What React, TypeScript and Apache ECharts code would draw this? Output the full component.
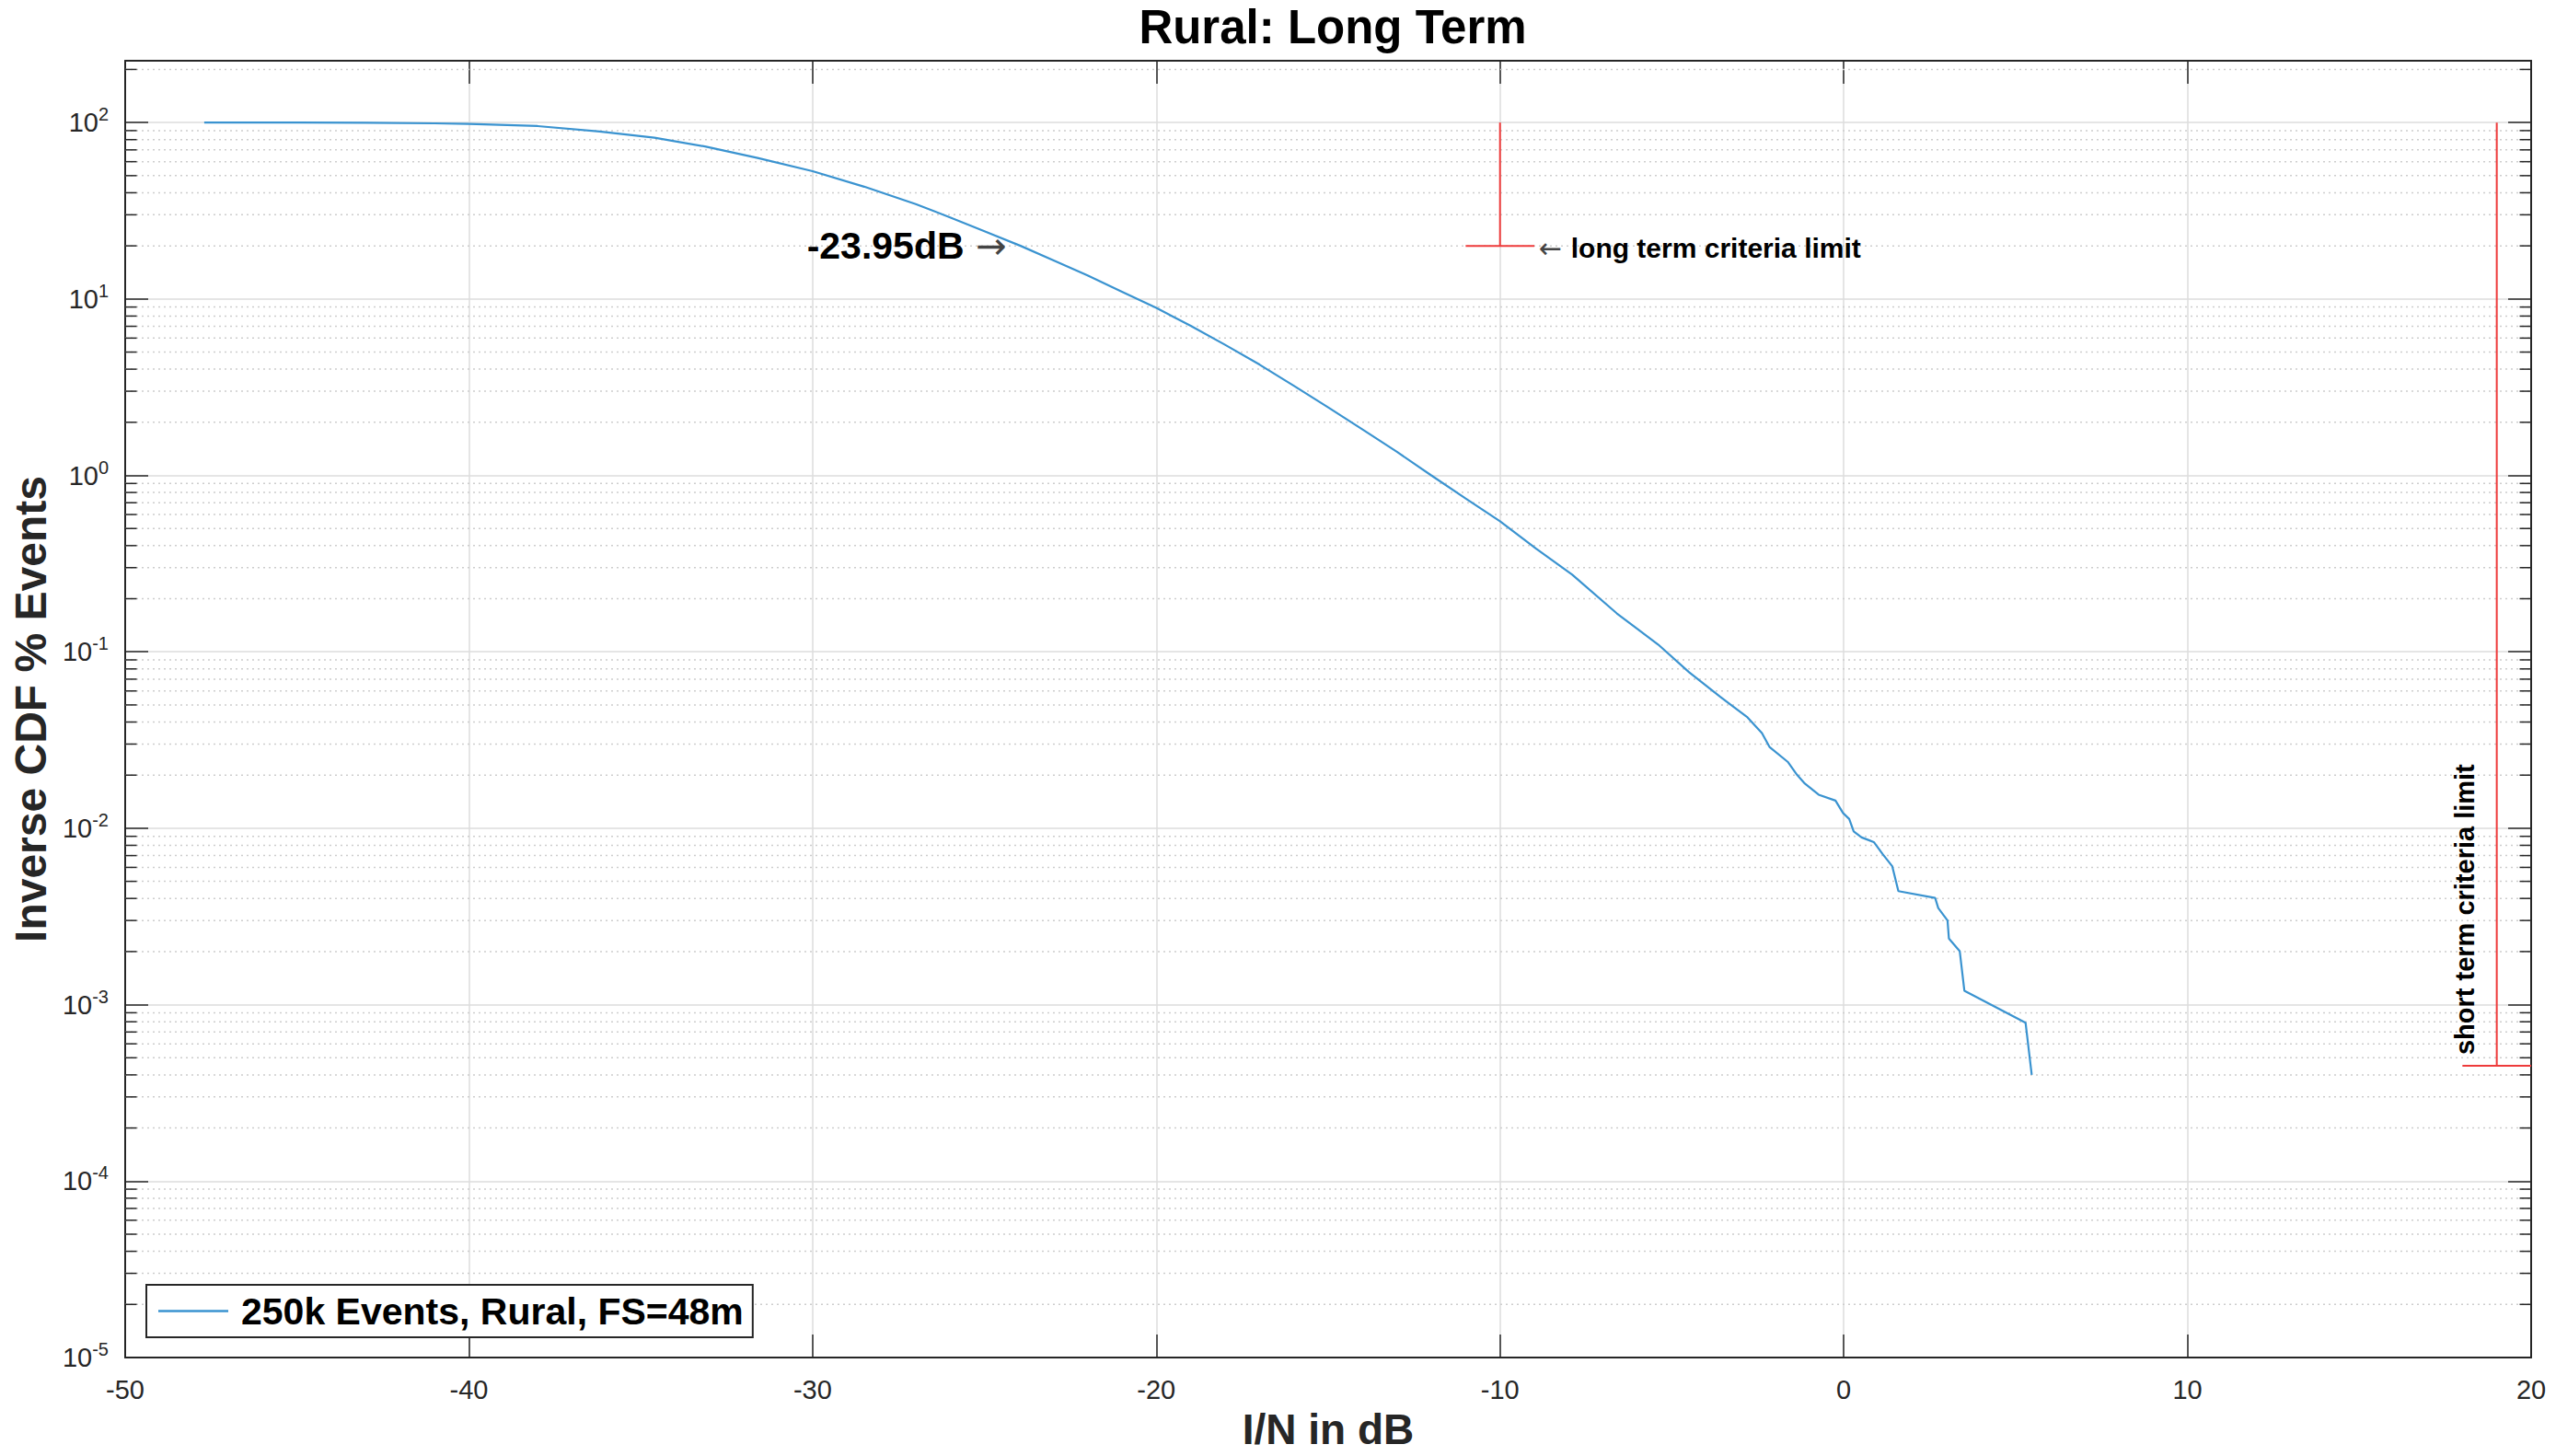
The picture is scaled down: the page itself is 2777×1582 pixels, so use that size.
import React, { useEffect, useRef } from "react";
import * as echarts from "echarts";

const W = 2777;
const H = 1582;

const titleText = "Rural: Long Term";
const xAxisName = "I/N in dB";
const yAxisName = "Inverse CDF % Events";
const seriesName = "250k Events, Rural, FS=48m";

// axis ranges
const xMin = -50;
const xMax = 20;
const xStep = 10;
const yMin = 1e-5;
const yMax = 224;

// I/N (dB) against the percentage of events exceeding it
const inDb = [
  -47.7, -45, -43, -41, -40, -38, -36.2, -34.6, -33.1, -31.6, -30, -28.5, -27, -26,
  -25, -23.95, -23, -22, -21, -20, -19, -18, -17, -16, -15, -14, -13, -12,
  -11, -10, -8.95, -7.9, -6.6, -5.4, -4.5, -3.6, -2.8, -2.38, -2.16, -1.63, -1.36, -1.13,
  -0.73, -0.24, -0.02, 0.16, 0.29, 0.52, 0.875, 1.14, 1.41, 1.59, 2.66, 2.75, 3.02, 3.06,
  3.375, 3.51, 5.29, 5.47,
];
const pctEvents = [
  100, 99.95, 99.7, 99.0, 98.3, 95.5, 89, 82, 73, 63, 53, 43.3, 34.5, 29.0,
  24.2, 20.0, 16.6, 13.6, 11.0, 8.9, 7.05, 5.5, 4.25, 3.22, 2.43, 1.82, 1.36, 1.0,
  0.74, 0.55, 0.384, 0.274, 0.165, 0.11, 0.0766, 0.0557, 0.0425, 0.0346, 0.0289, 0.0238, 0.0201, 0.0179,
  0.0155, 0.01435, 0.0122, 0.01128, 0.0096, 0.00887, 0.00835, 0.0071, 0.0061, 0.0044, 0.00403, 0.00353, 0.003, 0.00237,
  0.00201, 0.0012, 0.00079, 0.0004,
];

// protection criteria markers
const criteriaTop = 100;
const markerHalfWidth = 1;
const longTermDb = -10;
const longTermPct = 20;
const longTermLabel = "long term criteria limit";
const shortTermDb = 19;
const shortTermPct = 4.5e-4;
const shortTermLabel = "short term criteria limit";
const crossingDb = -23.95;
const crossingPct = 20;
const crossingLabel = "-23.95dB";

// log-axis minor ticks
const decadeExponents = [-5, -4, -3, -2, -1, 0, 1, 2];
const minorMultipliers = [2, 3, 4, 5, 6, 7, 8, 9];

const FONT = "'Liberation Sans', Arial, Helvetica, sans-serif";
const ARROW_FONT = "'DejaVu Sans', sans-serif";
const AXIS = "#262626";
const CURVE = "#3a93d0";
const RED = "#ee3b3b";
const GRID = { left: 136, right: 27, top: 66, bottom: 107 };

export default function App() {
  const ref = useRef<HTMLDivElement>(null);

  useEffect(() => {
    if (!ref.current) return;
    const chart = echarts.init(ref.current, undefined, { renderer: "svg" });

    const curve = inDb.map((x, i) => [x, pctEvents[i]]);
    const minorValues: number[][] = [];
    decadeExponents.forEach((e) => {
      minorMultipliers.forEach((m) => {
        const v = m * Math.pow(10, e);
        if (v <= yMax) minorValues.push([xMin, v]);
      });
    });

    const redLine = (data: number[][]) => ({
      type: "line",
      data,
      symbol: "none",
      silent: true,
      z: 4,
      lineStyle: { color: RED, width: 2 },
      itemStyle: { color: RED },
    });

    const axisLine = { show: true, onZero: false, lineStyle: { color: AXIS, width: 2 } };
    const axisTick = { show: true, inside: true, length: 25, lineStyle: { color: AXIS, width: 1.5 } };
    const plotCenterX = GRID.left + (W - GRID.left - GRID.right) / 2;

    const option: any = {
      animation: false,
      backgroundColor: "#ffffff",
      title: {
        text: titleText,
        left: plotCenterX,
        top: -1,
        textAlign: "center",
        textStyle: { fontFamily: FONT, fontSize: 51, fontWeight: "bold", color: "#000" },
      },
      grid: { ...GRID, containLabel: false, outerBoundsMode: "none" },
      legend: {
        data: [{ name: seriesName, icon: "rect" }],
        left: 159,
        top: 1396,
        padding: [8, 10, 8, 13],
        borderColor: AXIS,
        borderWidth: 2,
        backgroundColor: "#ffffff",
        itemWidth: 76,
        itemHeight: 2.5,
        selectedMode: false,
        textStyle: {
          fontFamily: FONT,
          fontSize: 41,
          fontWeight: "bold",
          color: "#000",
          padding: [0, 0, 0, 9],
        },
      },
      xAxis: [
        {
          type: "value",
          min: xMin,
          max: xMax,
          interval: xStep,
          position: "bottom",
          axisLine,
          axisTick,
          axisLabel: { margin: 20, fontSize: 29, color: AXIS, fontFamily: FONT },
          splitLine: { show: true, lineStyle: { color: "#dcdcdc", width: 1.5 } },
          name: xAxisName,
          nameLocation: "middle",
          nameGap: 55,
          nameTextStyle: { fontFamily: FONT, fontSize: 46, fontWeight: "bold", color: AXIS },
        },
        {
          type: "value",
          min: xMin,
          max: xMax,
          interval: xStep,
          position: "top",
          axisLine,
          axisTick,
          axisLabel: { show: false },
          splitLine: { show: false },
        },
      ],
      yAxis: [
        {
          type: "log",
          logBase: 10,
          min: yMin,
          max: yMax,
          position: "left",
          axisLine,
          axisTick,
          axisLabel: {
            margin: 18,
            showMaxLabel: false,
            formatter: (v: number) => `{b|10}{s|${Math.round(Math.log10(v))}}`,
            rich: {
              b: { fontSize: 29, color: AXIS, fontFamily: FONT },
              s: { fontSize: 20, color: AXIS, fontFamily: FONT, padding: [0, 0, 18, 0] },
            },
          },
          splitLine: { show: true, lineStyle: { color: "#dcdcdc", width: 1.5 } },
          name: yAxisName,
          nameLocation: "middle",
          nameGap: 78,
          nameTextStyle: { fontFamily: FONT, fontSize: 48, fontWeight: "bold", color: AXIS },
        },
        {
          type: "log",
          logBase: 10,
          min: yMin,
          max: yMax,
          position: "right",
          axisLine,
          axisTick,
          axisLabel: { show: false },
          splitLine: { show: false },
        },
      ],
      series: [
        {
          type: "custom",
          name: "minor",
          silent: true,
          z: 1,
          data: minorValues,
          renderItem: (_params: any, api: any) => {
            const v = api.value(1);
            const a = api.coord([xMin, v]);
            const b = api.coord([xMax, v]);
            return {
              type: "group",
              children: [
                {
                  type: "line",
                  shape: { x1: a[0], y1: a[1], x2: b[0], y2: b[1] },
                  style: { stroke: "#cdcdcd", lineWidth: 1.5, lineDash: [2, 4] },
                },
                {
                  type: "line",
                  shape: { x1: a[0], y1: a[1], x2: a[0] + 12.5, y2: a[1] },
                  style: { stroke: AXIS, lineWidth: 1.5 },
                },
                {
                  type: "line",
                  shape: { x1: b[0] - 12.5, y1: b[1], x2: b[0], y2: b[1] },
                  style: { stroke: AXIS, lineWidth: 1.5 },
                },
              ],
            };
          },
        },
        {
          type: "line",
          name: seriesName,
          data: curve,
          symbol: "none",
          showSymbol: false,
          z: 5,
          lineStyle: { color: CURVE, width: 2.2 },
          itemStyle: { color: CURVE },
        },
        redLine([[longTermDb, criteriaTop], [longTermDb, longTermPct]]),
        redLine([[longTermDb - markerHalfWidth, longTermPct], [longTermDb + markerHalfWidth, longTermPct]]),
        redLine([[shortTermDb, criteriaTop], [shortTermDb, shortTermPct]]),
        redLine([[shortTermDb - markerHalfWidth, shortTermPct], [shortTermDb + markerHalfWidth, shortTermPct]]),
      ],
    };

    chart.setOption(option);

    const toPx = (x: number, y: number) =>
      chart.convertToPixel({ xAxisIndex: 0, yAxisIndex: 0 }, [x, y]) as number[];
    const pCross = toPx(crossingDb, crossingPct);
    const pLong = toPx(longTermDb + markerHalfWidth, longTermPct);
    const pShort = toPx(shortTermDb, shortTermPct);

    chart.setOption({
      graphic: [
        {
          type: "text",
          x: pCross[0] - 15,
          y: pCross[1],
          z: 10,
          style: {
            text: `{v|${crossingLabel}}{a| \u2192}`,
            align: "right",
            verticalAlign: "middle",
            rich: {
              v: { fontFamily: FONT, fontSize: 41, fontWeight: "bold", fill: "#000" },
              a: { fontFamily: ARROW_FONT, fontSize: 40, fill: "#444" },
            },
          },
        },
        {
          type: "text",
          x: pLong[0] + 5,
          y: pLong[1] + 2,
          z: 10,
          style: {
            text: `{a|\u2190 }{t|${longTermLabel}}`,
            align: "left",
            verticalAlign: "middle",
            rich: {
              a: { fontFamily: ARROW_FONT, fontSize: 30, fill: "#444" },
              t: { fontFamily: FONT, fontSize: 30, fontWeight: "bold", fill: "#000" },
            },
          },
        },
        {
          type: "text",
          x: pShort[0] - 35,
          y: pShort[1] - 12,
          rotation: Math.PI / 2,
          z: 10,
          style: {
            text: shortTermLabel,
            align: "left",
            verticalAlign: "middle",
            fontFamily: FONT,
            fontSize: 29,
            fontWeight: "bold",
            fill: "#000",
          },
        },
      ],
    });

    return () => chart.dispose();
  }, []);

  return (
    <div
      ref={ref}
      style={{ position: "fixed", left: 0, top: 0, width: W, height: H, background: "#fff" }}
    />
  );
}
